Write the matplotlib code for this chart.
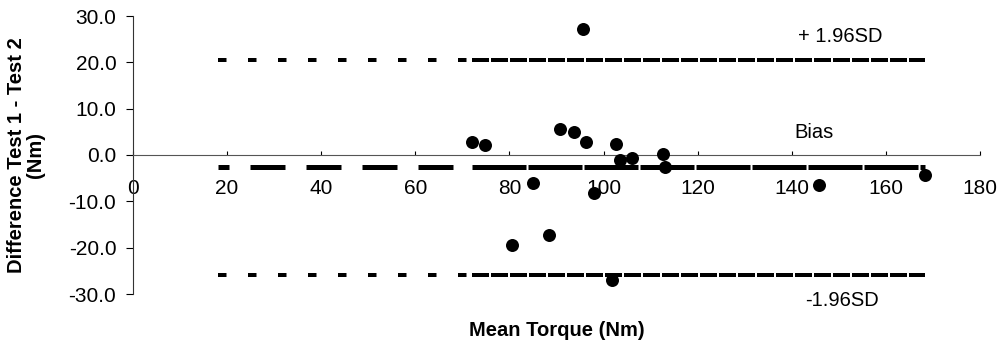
import matplotlib
matplotlib.use("Agg")
import matplotlib.pyplot as plt
from matplotlib.ticker import FormatStrFormatter

# ---- data ----
mean_torque = [72.1, 74.9, 80.6, 84.9, 88.5, 90.7, 93.7, 95.7, 96.3, 98.0,
               101.7, 102.7, 103.5, 106.1, 112.7, 113.0, 145.8, 168.4]
difference = [2.9, 2.1, -19.4, -6.0, -17.3, 5.6, 5.0, 27.3, 2.7, -8.1,
              -27.0, 2.4, -1.1, -0.7, 0.3, -2.5, -6.4, -4.3]
bias = -2.5
upper_loa = 20.5
lower_loa = -26.0
line_x_start = 18.0
x_ticks = [0, 20, 40, 60, 80, 100, 120, 140, 160, 180]
y_ticks = [-30, -20, -10, 0, 10, 20, 30]
label_upper = "+ 1.96SD"
label_bias = "Bias"
label_lower = "-1.96SD"
x_title = "Mean Torque (Nm)"
y_title = "Difference Test 1 - Test 2\n(Nm)"

plt.rcParams['font.family'] = ['Liberation Sans', 'DejaVu Sans']
plt.rcParams['lines.scale_dashes'] = False

fig = plt.figure(figsize=(10.05, 3.5), dpi=100)
ax = fig.add_axes([133 / 1005, 56 / 350, 847 / 1005, 278 / 350])
ax.set_xlim(0, 180)
ax.set_ylim(-30, 30)

x_min = min(mean_torque)
x_max = max(mean_torque)
px = 72 / 100  # points per pixel

# limits of agreement: sparse dashes left of data, dense within data range
for yv in (upper_loa, lower_loa):
    ax.plot([line_x_start, x_min], [yv, yv], color='black', lw=4 * px,
            dashes=(8.5 * px, 21.5 * px), dash_capstyle='butt', zorder=2)
    ax.plot([x_min, x_max], [yv, yv], color='black', lw=4 * px,
            dashes=(17 * px, 2 * px), dash_capstyle='butt', zorder=2)

# bias line
ax.plot([line_x_start, x_min], [bias, bias], color='black', lw=5 * px,
        dashes=(11 * px, 21 * px, 35 * px, 21 * px, 35 * px, 21 * px,
                35 * px, 21 * px, 35 * px, 21 * px, 35 * px, 21 * px),
        dash_capstyle='butt', zorder=2)
ax.plot([x_min, x_max], [bias, bias], color='black', lw=5 * px,
        dashes=(54 * px, 2 * px), dash_capstyle='butt', zorder=2)

ax.scatter(mean_torque, difference, s=(13 * px) ** 2, color='black',
           zorder=3, linewidths=0)

# spines
for side in ('top', 'right'):
    ax.spines[side].set_visible(False)
ax.spines['bottom'].set_position(('data', 0))
ax.spines['bottom'].set_color('#555555')
ax.spines['bottom'].set_linewidth(0.8)
ax.spines['left'].set_color('#333333')
ax.spines['left'].set_linewidth(0.8)

ax.set_xticks(x_ticks)
ax.set_yticks(y_ticks)
ax.yaxis.set_major_formatter(FormatStrFormatter('%.1f'))
ax.tick_params(axis='x', direction='in', length=3, width=0.8, pad=17,
               labelsize=15, colors='black')
ax.tick_params(axis='y', direction='out', length=5, width=0.8, pad=7,
               labelsize=15, colors='black')

ax.text(150.4, 25.6, label_upper, ha='center', va='center', fontsize=14.5)
ax.text(144.7, 4.8, label_bias, ha='center', va='center', fontsize=14.5)
ax.text(150.7, -31.4, label_lower, ha='center', va='center', fontsize=14.5,
        clip_on=False)

ax.text(0.5, -0.133, x_title, transform=ax.transAxes, ha='center',
        va='center', fontsize=14.5, fontweight='bold')
ax.text(-0.126, 0.5, y_title, transform=ax.transAxes, ha='center',
        va='center', rotation=90, fontsize=14.5, fontweight='bold',
        multialignment='center', linespacing=1.0)

fig.savefig("out.png", dpi=100)
